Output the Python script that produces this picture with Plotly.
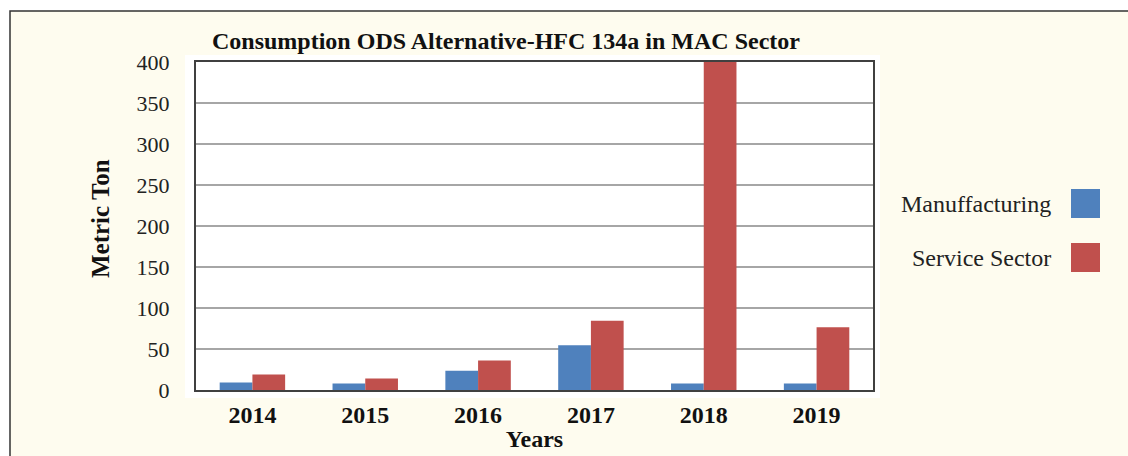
import plotly.graph_objects as go

years = ["2014", "2015", "2016", "2017", "2018", "2019"]
manufacturing = [9, 8, 23.5, 54.5, 8, 8]
service = [19, 14, 36, 84.5, 400, 76.5]
series_names = ["Manuffacturing", "Service Sector"]
colors = ["#4F81BD", "#C0504D"]
y_ticks = [0, 50, 100, 150, 200, 250, 300, 350, 400]

W, H = 1128, 456
L, R, T, B = 196, 873, 62, 390  # plot area in pixels


def px(x):
    return (x - L) / (R - L)


def py(y):
    return (B - y) / (B - T)


fig = go.Figure()
for name, vals, c in zip(series_names, [manufacturing, service], colors):
    fig.add_trace(go.Bar(x=years, y=vals, name=name, marker=dict(color=c, line=dict(width=0)),
                         showlegend=False, cliponaxis=True))

serif = "Liberation Serif"
shapes = [
    dict(type="rect", xref="paper", yref="paper", x0=px(10), x1=px(1160), y0=py(490), y1=py(11),
         fillcolor="#FEFCEF", line=dict(color="#333333", width=1.5), layer="below"),
    dict(type="rect", xref="paper", yref="paper", x0=px(185), x1=px(880), y0=py(398), y1=py(55),
         fillcolor="#FFFFFF", line=dict(width=0), layer="below"),
]
annotations = [
    dict(text="<b>Metric Ton</b>", xref="paper", yref="paper", x=px(100), y=py(219),
         xanchor="center", yanchor="middle", textangle=-90, showarrow=False,
         font=dict(family=serif, size=25, color="#111111")),
]
for i, (name, c) in enumerate(zip(series_names, colors)):
    y0 = 189 + i * 54
    shapes.append(dict(type="rect", xref="paper", yref="paper", x0=px(1071), x1=px(1100),
                       y0=py(y0 + 29), y1=py(y0), fillcolor=c, line=dict(width=0)))
    annotations.append(dict(text=name, xref="paper", yref="paper", x=px(1053), y=py(y0 + 15),
                            xanchor="right", yanchor="middle", showarrow=False,
                            font=dict(family=serif, size=24, color="#222222")))

fig.update_layout(
    width=W, height=H,
    margin=dict(l=L, r=W - R, t=T, b=H - B, autoexpand=False),
    paper_bgcolor="#FFFFFF",
    plot_bgcolor="#FFFFFF",
    barmode="group",
    bargap=0.42,
    bargroupgap=0,
    title=dict(text="<b>Consumption ODS Alternative-HFC 134a in MAC Sector</b>",
               x=px(506), xref="paper", xanchor="center", y=1 - 41 / H, yanchor="middle",
               font=dict(family=serif, size=24, color="#111111")),
    shapes=shapes,
    annotations=annotations,
    font=dict(family=serif, color="#222222"),
)
fig.update_xaxes(
    automargin=False,
    showline=True, linecolor="#404040", linewidth=2, mirror=True,
    ticks="outside", ticklen=2, tickcolor="rgba(0,0,0,0)",
    tickfont=dict(family=serif, size=24, color="#111111"),
    tickprefix="<b>", ticksuffix="</b>",
    title=dict(text="<b>Years</b>", font=dict(family=serif, size=24, color="#111111"), standoff=3),
)
fig.update_yaxes(
    automargin=False,
    range=[0, 400], tickvals=y_ticks,
    showline=True, linecolor="#404040", linewidth=2, mirror=True,
    showgrid=True, gridcolor="#A6A6A6", gridwidth=1.5,
    ticks="outside", ticklen=20, tickcolor="rgba(0,0,0,0)",
    tickfont=dict(family=serif, size=22, color="#222222"),
    zeroline=False,
)

fig.write_html("out.html", config={"displayModeBar": False},
               post_script="document.body.style.margin='0';")
